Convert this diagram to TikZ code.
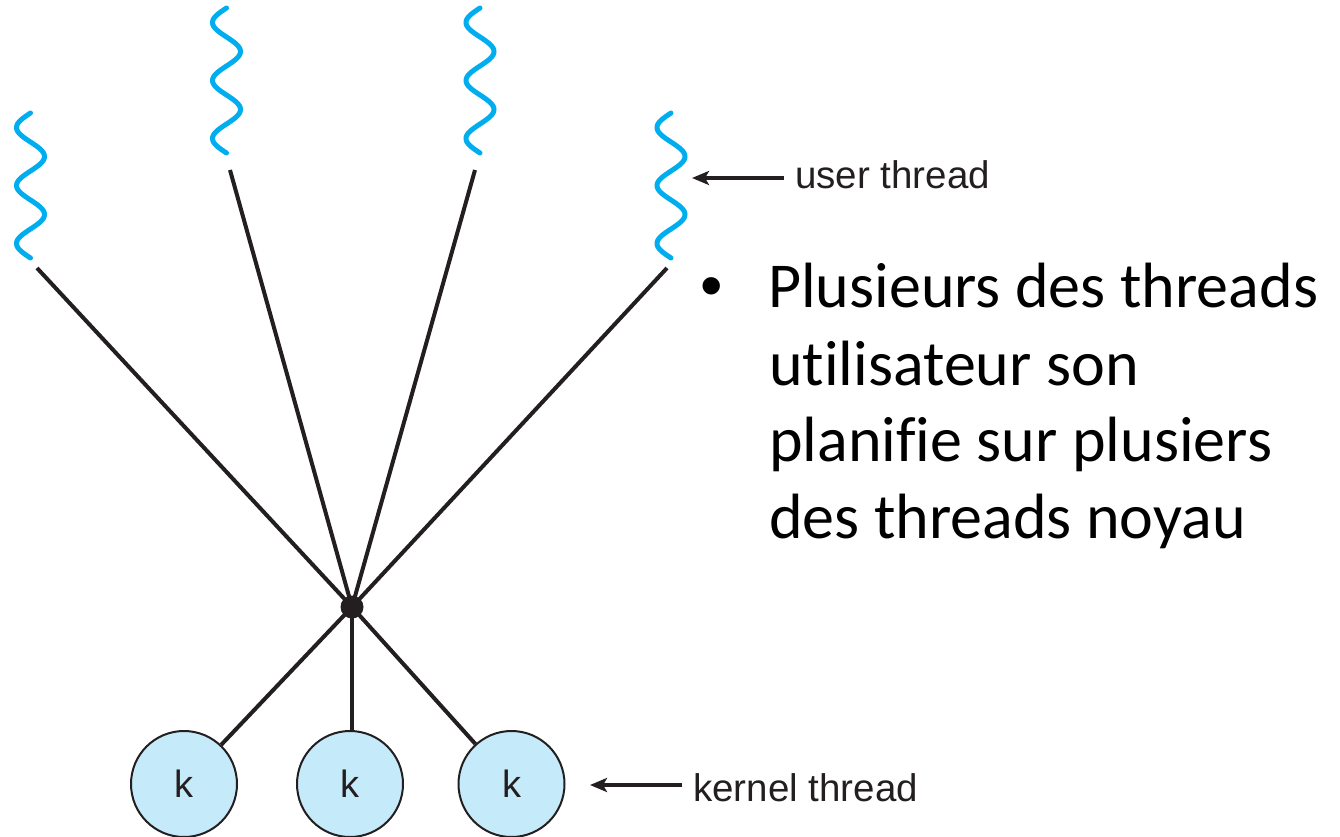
\documentclass[tikz,border=0pt]{standalone}
\usepackage{fontspec}
\setmainfont{Liberation Sans}
\newfontfamily\slidefont[Ligatures=NoCommon]{Carlito}
\usetikzlibrary{arrows.meta}

\definecolor{threadcyan}{RGB}{0,174,239}
\definecolor{kfill}{RGB}{197,234,250}
\definecolor{ink}{RGB}{35,31,32}

% one wavy user thread, hanging down from its top point (#1,#2); period 58
\newcommand\userthread[2]{%
  \draw[uthr] plot[domain=0:145,samples=120,smooth]
    ({#1-14*sin(6.2069*\x)},{#2+\x});}

\tikzset{
  uthr/.style={threadcyan, line width=5pt, line cap=round},
  link/.style={ink, line width=4pt},
  kthread/.style={circle, draw=ink, line width=2pt, fill=kfill,
    minimum size=106pt, inner sep=0pt, font=\fontsize{38}{46}\selectfont, text=ink},
  hubdot/.style={circle, fill=ink, minimum size=23pt, inner sep=0pt},
  callout/.style={ink, line width=3.2pt, -{Stealth[length=17pt,width=14pt,inset=4pt]}},
  lbl/.style={anchor=base west, inner sep=0pt, font=\fontsize{38.5}{46}\selectfont, text=ink},
  slide/.style={anchor=base west, inner sep=0pt, font=\slidefont\fontsize{64}{78}\selectfont}
}

\begin{document}
\begin{tikzpicture}[x=1pt,y=-1pt]
\useasboundingbox (0,0) rectangle (1340,837);

% user threads
\userthread{30.5}{113}
\userthread{226.5}{8}
\userthread{480}{8}
\userthread{671}{113}

% lower ends of the user-thread links
\coordinate (u1) at (37,268);
\coordinate (u2) at (230,170);
\coordinate (u3) at (475,170);
\coordinate (u4) at (667,268);

% multiplexing point
\node[hubdot] (hub) at (352,607) {};

% kernel threads
\node[kthread] (k1) at (184,784) {k};
\node[kthread] (k2) at (350,784) {k};
\node[kthread] (k3) at (511.5,784) {k};

% links
\foreach \u in {u1,u2,u3,u4}
  \draw[link] (\u) -- (hub.center);
\draw[link] (hub.center) -- (k1);
\draw[link] (hub.center) -- (hub.center |- k2.north);
\draw[link] (hub.center) -- (k3);

% callout labels
\node[lbl] (ulab) at (795,189) {user thread};
\coordinate (utip) at (692,178);
\coordinate (utail) at (784,178);
\draw[callout] (utail) -- (utip);

\node[lbl] (klab) at (693,801) {kernel thread};
\coordinate (ktip) at (590,785);
\coordinate (ktail) at (682,785);
\draw[callout] (ktail) -- (ktip);

% bullet text
\node[anchor=base west, inner sep=0pt, font=\fontsize{64}{78}\selectfont] (bul) at (700,307) {•};
\node[slide] (t1) at (768,307) {Plusieurs des threads};
\node[slide] (t2) at (769,385) {utilisateur son};
\node[slide] (t3) at (769,461) {planifie sur plusiers};
\node[slide] (t4) at (769,538) {des threads noyau};
\end{tikzpicture}
\end{document}
